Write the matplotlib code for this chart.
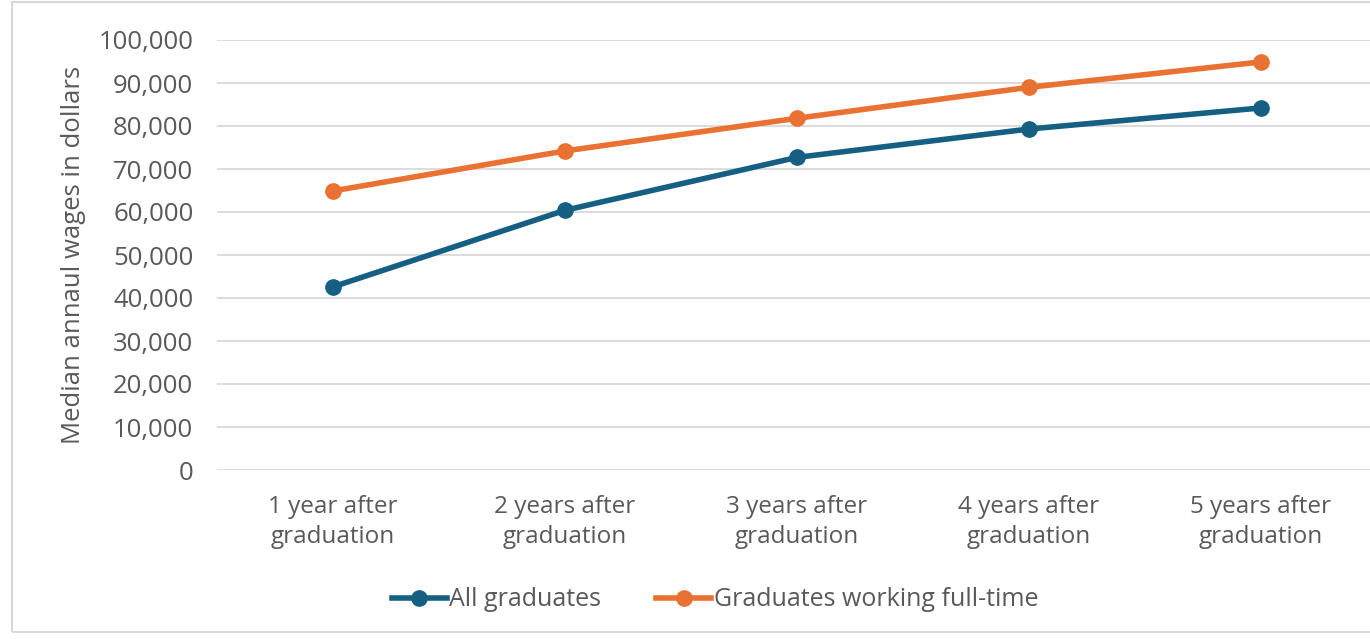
import matplotlib.pyplot as plt
from matplotlib.patches import Rectangle
from matplotlib.ticker import FuncFormatter

categories = ['1 year after\ngraduation', '2 years after\ngraduation', '3 years after\ngraduation',
              '4 years after\ngraduation', '5 years after\ngraduation']
all_grads = [42600, 60400, 72700, 79300, 84200]
full_time = [64900, 74200, 81800, 89000, 94900]

blue = '#156082'
orange = '#E97132'
text_col = '#595959'

plt.rcParams['font.family'] = ['Open Sans', 'DejaVu Sans']

fig = plt.figure(figsize=(13.7, 6.39), dpi=100)
fig.patches.append(Rectangle((12 / 1370, 7 / 639), 1.0, 630 / 639, transform=fig.transFigure,
                             fill=False, edgecolor='#d9d9d9', linewidth=1.5))

ax = fig.add_axes([217 / 1370, (639 - 470) / 639, 1160 / 1370, 430 / 639])
x = range(len(categories))
ax.plot(x, all_grads, color=blue, lw=4, marker='o', ms=11, label='All graduates')
ax.plot(x, full_time, color=orange, lw=4, marker='o', ms=11, label='Graduates working full-time')

ax.set_xlim(-0.5, 4.5)
ax.set_ylim(0, 100000)
ax.set_yticks(range(0, 100001, 10000))
ax.yaxis.set_major_formatter(FuncFormatter(lambda v, p: f'{int(v):,}'))
ax.set_xticks(list(x))
ax.set_xticklabels(categories, linespacing=1.36)
ax.grid(axis='y', color='#d9d9d9', lw=1.3)
ax.set_axisbelow(True)
for s in ax.spines.values():
    s.set_visible(False)
ax.tick_params(length=0, labelsize=18.5, colors=text_col)
ax.tick_params(axis='y', pad=17)
ax.tick_params(axis='x', labelsize=17.5, pad=18)
ax.set_ylabel('Median annaul wages in dollars', fontsize=18.5, color=text_col, labelpad=9)

fig.legend(loc='center', bbox_to_anchor=(715 / 1370, 1 - 600 / 639), ncol=2, frameon=False,
           fontsize=18, labelcolor=text_col, handlelength=2.2, handletextpad=0.1, columnspacing=2.2)

fig.savefig('out.png', dpi=100)
